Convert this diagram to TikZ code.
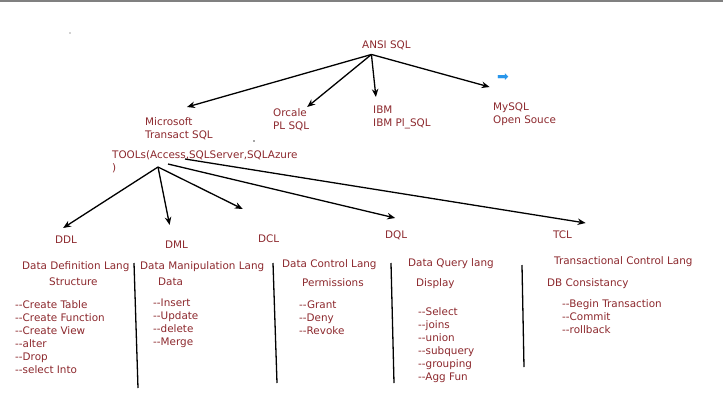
\documentclass[tikz,border=0pt]{standalone}
\usepackage{fontspec}
\setmainfont{DejaVu Sans}
\usepackage{tikz}
\usetikzlibrary{positioning,arrows.meta}
\definecolor{sqlred}{RGB}{140,40,45}
\definecolor{iconblue}{RGB}{40,150,235}

\begin{document}
\begin{tikzpicture}[x=1pt,y=-1pt,
    txt/.style={text=sqlred,inner sep=0pt,anchor=north west,align=left,
        font=\fontsize{10.4}{13}\selectfont},
    link/.style={-{Stealth[length=8pt,width=6.5pt]},line width=1.3pt},
    sep/.style={line width=1.3pt}]
    \useasboundingbox (0,0) rectangle (723,410);
    \fill[gray] (0,0) rectangle (723,1.6);
    % top level
    \node[txt] (ansi) at (362,41) {ANSI SQL};
    \node[txt] (ms) at (145,117) {Microsoft\\Transact SQL};
    \node[txt] (ora) at (273,108) {Orcale\\PL SQL};
    \node[txt] (ibm) at (373,106) {IBM\\IBM Pl\_SQL};
    \node[txt] (mysql) at (493,103) {MySQL\\Open Souce};
    \node[text=iconblue,inner sep=0pt,font=\fontsize{14}{14}\selectfont] (icon) at (503,78) {➡};
    \fill[gray!70] (70,33) circle (0.8);
    \fill[black!70] (254,141) circle (0.8);
    \coordinate (ansiroot) at ([shift={(-15,4)}]ansi.south);
    \draw[link] (ansiroot) -- ([shift={(8,-10)}]ms.north);
    \draw[link] (ansiroot) -- ([shift={(16,-1)}]ora.north);
    \draw[link] (ansiroot) -- ([shift={(-26,-9)}]ibm.north);
    \draw[link] (ansiroot) -- ([shift={(-35,-16)}]mysql.north);
    % tools and sub languages
    \node[txt] (tools) at (112,150) {TOOLs(Access,SQLServer,SQLAzure\\)};
    \node[txt] (ddl) at (55,236) {DDL};
    \node[txt] (dml) at (165,241) {DML};
    \node[txt] (dcl) at (258,235) {DCL};
    \node[txt] (dql) at (385,231) {DQL};
    \node[txt] (tcl) at (553,231) {TCL};
    \coordinate (toolsroot) at (158,167);
    \draw[link] (toolsroot) -- ([shift={(-3,-8)}]ddl.north);
    \draw[link] (toolsroot) -- ([shift={(-7,-16)}]dml.north);
    \draw[link] (toolsroot) -- ([shift={(-26,-26)}]dcl.north);
    \draw[link] (168,164) -- ([shift={(-1,-13)}]dql.north);
    \draw[link] (185,159) -- ([shift={(23,-8)}]tcl.north);
    % columns
    \node[txt] (ddlname) at (22,261) {Data Definition Lang};
    \node[txt] (dmlname) at (140,261) {Data Manipulation Lang};
    \node[txt] (dclname) at (282,259) {Data Control Lang};
    \node[txt] (dqlname) at (408,258) {Data Query lang};
    \node[txt] (tclname) at (554,256) {Transactional Control Lang};
    \node[txt] (struct) at (49,278) {Structure};
    \node[txt] (data) at (158,278) {Data};
    \node[txt] (perm) at (302,278) {Permissions};
    \node[txt] (disp) at (416,278) {Display};
    \node[txt] (dbc) at (547,278) {DB Consistancy};
    \node[txt] (ddllist) at (15,300) {-{}-Create Table\\-{}-Create Function\\-{}-Create View\\-{}-alter\\-{}-Drop\\-{}-select Into};
    \node[txt] (dmllist) at (153,299) {-{}-Insert\\-{}-Update\\-{}-delete\\-{}-Merge};
    \node[txt] (dcllist) at (299,301) {-{}-Grant\\-{}-Deny\\-{}-Revoke};
    \node[txt] (dqllist) at (418,307) {-{}-Select\\-{}-joins\\-{}-union\\-{}-subquery\\-{}-grouping\\-{}-Agg Fun};
    \node[txt] (tcllist) at (562,299) {-{}-Begin Transaction\\-{}-Commit\\-{}-rollback};
    \draw[sep] (134,263) -- (138,388);
    \draw[sep] (273,263) -- (277,383);
    \draw[sep] (391,263) -- (394,383);
    \draw[sep] (522,265) -- (524,367);
\end{tikzpicture}
\end{document}
